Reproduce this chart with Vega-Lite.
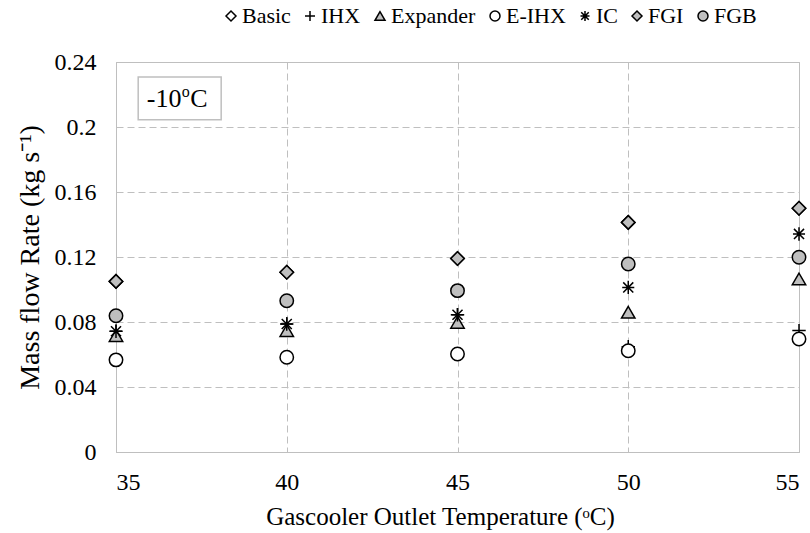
{
  "$schema": "https://vega.github.io/schema/vega-lite/v6.json",
  "autosize": {"type": "none"},
  "width": 683,
  "height": 390,
  "padding": {"left": 116, "top": 62, "right": 11, "bottom": 81},
  "background": "white",
  "config": {
    "font": "Liberation Serif",
    "view": {"stroke": "#bfbfbf", "strokeWidth": 1},
    "axis": {
      "labelFont": "Liberation Serif",
      "titleFont": "Liberation Serif",
      "labelColor": "#000000",
      "titleColor": "#000000",
      "labelFontSize": 24,
      "titleFontWeight": "normal",
      "domainColor": "#bfbfbf",
      "ticks": false,
      "gridColor": "#bfbfbf",
      "gridDash": [7, 4],
      "gridWidth": 1
    },
    "legend": {
      "labelFont": "Liberation Serif",
      "labelFontSize": 22,
      "labelColor": "#000000"
    },
    "text": {"font": "Liberation Serif"}
  },
  "datasets": {
    "flow": [
      {"T": 35, "series": "Basic", "m": 0.105},
      {"T": 40, "series": "Basic", "m": 0.1106},
      {"T": 45, "series": "Basic", "m": 0.1191},
      {"T": 50, "series": "Basic", "m": 0.1413},
      {"T": 55, "series": "Basic", "m": 0.15},
      {"T": 35, "series": "IHX", "m": 0.0743},
      {"T": 40, "series": "IHX", "m": 0.0788},
      {"T": 45, "series": "IHX", "m": 0.0845},
      {"T": 50, "series": "IHX", "m": 0.0648},
      {"T": 55, "series": "IHX", "m": 0.0747},
      {"T": 35, "series": "Expander", "m": 0.0716},
      {"T": 40, "series": "Expander", "m": 0.0747},
      {"T": 45, "series": "Expander", "m": 0.0798},
      {"T": 50, "series": "Expander", "m": 0.086},
      {"T": 55, "series": "Expander", "m": 0.1065},
      {"T": 35, "series": "E-IHX", "m": 0.0567},
      {"T": 40, "series": "E-IHX", "m": 0.0583},
      {"T": 45, "series": "E-IHX", "m": 0.0603},
      {"T": 50, "series": "E-IHX", "m": 0.0623},
      {"T": 55, "series": "E-IHX", "m": 0.0695},
      {"T": 35, "series": "IC", "m": 0.0743},
      {"T": 40, "series": "IC", "m": 0.0788},
      {"T": 45, "series": "IC", "m": 0.0845},
      {"T": 50, "series": "IC", "m": 0.1013},
      {"T": 55, "series": "IC", "m": 0.1342},
      {"T": 35, "series": "FGI", "m": 0.105},
      {"T": 40, "series": "FGI", "m": 0.1106},
      {"T": 45, "series": "FGI", "m": 0.1191},
      {"T": 50, "series": "FGI", "m": 0.1413},
      {"T": 55, "series": "FGI", "m": 0.15},
      {"T": 35, "series": "FGB", "m": 0.0838},
      {"T": 40, "series": "FGB", "m": 0.0931},
      {"T": 45, "series": "FGB", "m": 0.0993},
      {"T": 50, "series": "FGB", "m": 0.1157},
      {"T": 55, "series": "FGB", "m": 0.1198}
    ],
    "note": [
      {"x1": 35.65, "x2": 38.08, "y1": 0.2045, "y2": 0.2308, "tx": 35.9, "ty": 0.2121, "value": "-10", "sup": "o", "unit": "C"}
    ]
  },
  "layer": [
    {
      "data": {"name": "flow"},
      "mark": {"type": "point", "filled": true, "stroke": "#000000", "strokeWidth": 1.5, "size": 180, "opacity": 1},
      "encoding": {
        "x": {
          "field": "T", "type": "quantitative",
          "scale": {"domain": [35, 55], "nice": false, "zero": false},
          "axis": {
            "values": [35, 40, 45, 50, 55],
            "title": "Gascooler Outlet Temperature (ᵒC)",
            "titleFontSize": 25,
            "titleX": 324,
            "titleAlign": "center",
            "labelPadding": 18,
            "titlePadding": 10
          }
        },
        "y": {
          "field": "m", "type": "quantitative",
          "scale": {"domain": [0, 0.24], "nice": false},
          "axis": {
            "values": [0, 0.04, 0.08, 0.12, 0.16, 0.2, 0.24],
            "format": "~g",
            "title": "Mass flow Rate (kg s⁻¹)",
            "titleFontSize": 28,
            "labelPadding": 20,
            "titlePadding": 10
          }
        },
        "shape": {
          "field": "series", "type": "nominal",
          "scale": {
            "domain": ["Basic", "IHX", "Expander", "E-IHX", "IC", "FGI", "FGB"],
            "range": ["diamond", "M-1,0L1,0M0,-1L0,1", "triangle-up", "circle", "M-0.75,-0.75L0.75,0.75M-0.75,0.75L0.75,-0.75M0,-1L0,1M-0.9,0L0.9,0", "diamond", "circle"]
          },
          "legend": {
            "title": null,
            "orient": "none",
            "direction": "horizontal",
            "legendX": 104,
            "legendY": -57,
            "columnPadding": 8,
            "labelOffset": 0,
            "symbolSize": 100,
            "encode": {
              "symbols": {"update": {"stroke": {"value": "#000000"}, "strokeWidth": {"value": 1.5}}}
            }
          }
        },
        "fill": {
          "field": "series", "type": "nominal",
          "scale": {
            "domain": ["Basic", "IHX", "Expander", "E-IHX", "IC", "FGI", "FGB"],
            "range": ["#ffffff", "transparent", "#bfbfbf", "#ffffff", "transparent", "#bfbfbf", "#bfbfbf"]
          },
          "legend": {
            "title": null,
            "orient": "none",
            "direction": "horizontal",
            "legendX": 104,
            "legendY": -57,
            "columnPadding": 8,
            "labelOffset": 0,
            "symbolSize": 100,
            "encode": {
              "symbols": {"update": {"stroke": {"value": "#000000"}, "strokeWidth": {"value": 1.5}}}
            }
          }
        }
      }
    },
    {
      "data": {"name": "note"},
      "mark": {"type": "rect", "fill": "#ffffff", "stroke": "#bfbfbf", "strokeWidth": 1.5},
      "encoding": {
        "x": {"field": "x1", "type": "quantitative"},
        "x2": {"field": "x2"},
        "y": {"field": "y1", "type": "quantitative"},
        "y2": {"field": "y2"}
      }
    },
    {
      "data": {"name": "note"},
      "mark": {"type": "text", "align": "left", "baseline": "alphabetic", "fontSize": 26, "font": "Liberation Serif", "color": "#000000"},
      "encoding": {
        "x": {"field": "tx", "type": "quantitative"},
        "y": {"field": "ty", "type": "quantitative"},
        "text": {"field": "value"}
      }
    },
    {
      "data": {"name": "note"},
      "mark": {"type": "text", "align": "left", "baseline": "alphabetic", "fontSize": 16, "font": "Liberation Serif", "color": "#000000", "dx": 35, "dy": -10},
      "encoding": {
        "x": {"field": "tx", "type": "quantitative"},
        "y": {"field": "ty", "type": "quantitative"},
        "text": {"field": "sup"}
      }
    },
    {
      "data": {"name": "note"},
      "mark": {"type": "text", "align": "left", "baseline": "alphabetic", "fontSize": 26, "font": "Liberation Serif", "color": "#000000", "dx": 43.5},
      "encoding": {
        "x": {"field": "tx", "type": "quantitative"},
        "y": {"field": "ty", "type": "quantitative"},
        "text": {"field": "unit"}
      }
    }
  ]
}
